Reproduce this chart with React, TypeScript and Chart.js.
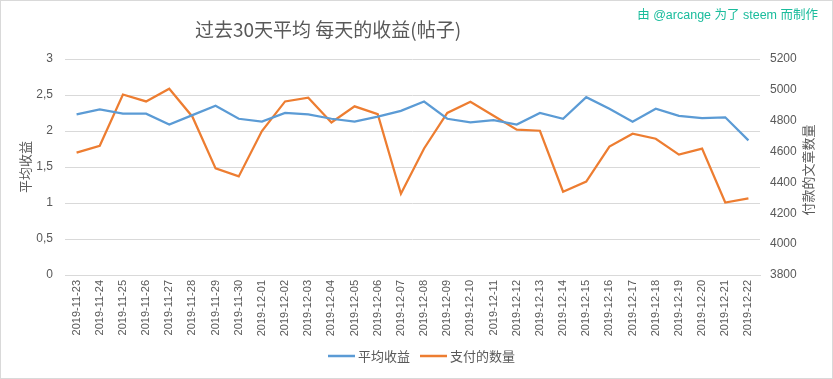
import React, { useEffect, useRef } from "react";
import { Chart, registerables } from "chart.js";

Chart.register(...registerables);

const dates = [
  "2019-11-23", "2019-11-24", "2019-11-25", "2019-11-26", "2019-11-27", "2019-11-28",
  "2019-11-29", "2019-11-30", "2019-12-01", "2019-12-02", "2019-12-03", "2019-12-04",
  "2019-12-05", "2019-12-06", "2019-12-07", "2019-12-08", "2019-12-09", "2019-12-10",
  "2019-12-11", "2019-12-12", "2019-12-13", "2019-12-14", "2019-12-15", "2019-12-16",
  "2019-12-17", "2019-12-18", "2019-12-19", "2019-12-20", "2019-12-21", "2019-12-22",
];

const avgReward = [
  2.23, 2.30, 2.24, 2.24, 2.09, 2.22, 2.35, 2.17, 2.13, 2.25, 2.23, 2.17, 2.13, 2.20, 2.28,
  2.41, 2.17, 2.12, 2.15, 2.09, 2.25, 2.17, 2.47, 2.31, 2.13, 2.31, 2.21, 2.18, 2.19, 1.87,
];

const paidPosts = [
  4593, 4638, 4970, 4925, 5007, 4826, 4491, 4439, 4733, 4925, 4949, 4789, 4893, 4843, 4327,
  4620, 4850, 4923, 4832, 4742, 4735, 4340, 4405, 4632, 4716, 4683, 4580, 4619, 4270, 4296,
];

const titleText = "过去30天平均 每天的收益(帖子)";
const creditText = "由 @arcange 为了 steem 而制作";
const leftAxisTitle = "平均收益";
const rightAxisTitle = "付款的文章数量";
const seriesNames = ["平均收益", "支付的数量"];

const BLUE = "#5B9BD5";
const ORANGE = "#ED7D31";
const TEXT = "#595959";
const GRID = "#D9D9D9";
const FONT = "'Noto Sans CJK SC', 'Liberation Sans', sans-serif";
const MIXED = "'Liberation Sans', 'Noto Sans CJK SC', sans-serif";

const decorPlugin = {
  id: "decor",
  afterDraw(chart: any) {
    const ctx = chart.ctx;
    const area = chart.chartArea;
    ctx.save();
    // border
    ctx.strokeStyle = GRID;
    ctx.lineWidth = 1;
    ctx.strokeRect(0.5, 0.5, chart.width - 1, chart.height - 1);
    // title
    ctx.fillStyle = TEXT;
    ctx.font = `19px ${FONT}`;
    ctx.textAlign = "center";
    ctx.textBaseline = "middle";
    ctx.fillText(titleText, 328, 30);
    // credit
    ctx.fillStyle = "#1ABC9C";
    ctx.font = `12.5px ${MIXED}`;
    ctx.textAlign = "right";
    ctx.fillText(creditText, 818, 16);
    // axis titles
    ctx.fillStyle = TEXT;
    ctx.font = `13px ${FONT}`;
    ctx.textAlign = "center";
    const midY = (area.top + area.bottom) / 2;
    ctx.save();
    ctx.translate(25, midY);
    ctx.rotate(-Math.PI / 2);
    ctx.fillText(leftAxisTitle, 0, 0);
    ctx.restore();
    ctx.save();
    ctx.translate(808, midY + 3);
    ctx.rotate(-Math.PI / 2);
    ctx.fillText(rightAxisTitle, 0, 0);
    ctx.restore();
    // legend
    const ly = 356;
    const items = [
      { x: 328, color: BLUE, label: seriesNames[0] },
      { x: 420, color: ORANGE, label: seriesNames[1] },
    ];
    ctx.textAlign = "left";
    ctx.font = `13px ${FONT}`;
    items.forEach((it) => {
      ctx.strokeStyle = it.color;
      ctx.lineWidth = 2.5;
      ctx.beginPath();
      ctx.moveTo(it.x, ly);
      ctx.lineTo(it.x + 27, ly);
      ctx.stroke();
      ctx.fillStyle = TEXT;
      ctx.fillText(it.label, it.x + 30, ly);
    });
    ctx.restore();
  },
};

export default function App() {
  const ref = useRef<HTMLCanvasElement>(null);
  useEffect(() => {
    document.body.style.margin = "0";
    const canvas = ref.current;
    if (!canvas) return;
    const chart = new Chart(canvas, {
      type: "line",
      data: {
        labels: dates,
        datasets: [
          {
            label: seriesNames[0],
            data: avgReward,
            borderColor: BLUE,
            backgroundColor: BLUE,
            borderWidth: 2.25,
            pointRadius: 0,
            tension: 0,
            yAxisID: "y",
          },
          {
            label: seriesNames[1],
            data: paidPosts,
            borderColor: ORANGE,
            backgroundColor: ORANGE,
            borderWidth: 2.25,
            pointRadius: 0,
            tension: 0,
            yAxisID: "y1",
          },
        ],
      },
      options: {
        responsive: false,
        animation: false,
        layout: { padding: { top: 59, left: 0, right: 0, bottom: 0 } },
        plugins: {
          legend: { display: false },
          title: { display: false },
          tooltip: { enabled: false },
        },
        scales: {
          x: {
            offset: true,
            grid: { display: false, drawTicks: false },
            border: { display: true, color: GRID },
            ticks: {
              autoSkip: false,
              minRotation: 90,
              maxRotation: 90,
              padding: 5,
              color: TEXT,
              font: { size: 11, family: "'Liberation Sans', sans-serif" },
            },
            afterFit: (s: any) => {
              s.height = 104;
            },
          },
          y: {
            position: "left",
            min: 0,
            max: 3,
            grid: { color: GRID, drawTicks: false },
            border: { display: false },
            ticks: {
              stepSize: 0.5,
              padding: 12,
              color: TEXT,
              font: { size: 12, family: "'Liberation Sans', sans-serif" },
              callback: (v: any) => String(v).replace(".", ","),
            },
            afterFit: (s: any) => {
              s.width = 65;
            },
          },
          y1: {
            position: "right",
            min: 3800,
            max: 5200,
            grid: { display: false, drawTicks: false },
            border: { display: false },
            ticks: {
              stepSize: 200,
              padding: 10,
              color: TEXT,
              font: { size: 12, family: "'Liberation Sans', sans-serif" },
              callback: (v: any) => String(v),
            },
            afterFit: (s: any) => {
              s.width = 73;
            },
          },
        },
      },
      plugins: [decorPlugin],
    });
    return () => chart.destroy();
  }, []);
  return (
    <div style={{ width: 833, height: 379, background: "#fff" }}>
      <canvas ref={ref} width={833} height={379} style={{ display: "block" }} />
    </div>
  );
}
